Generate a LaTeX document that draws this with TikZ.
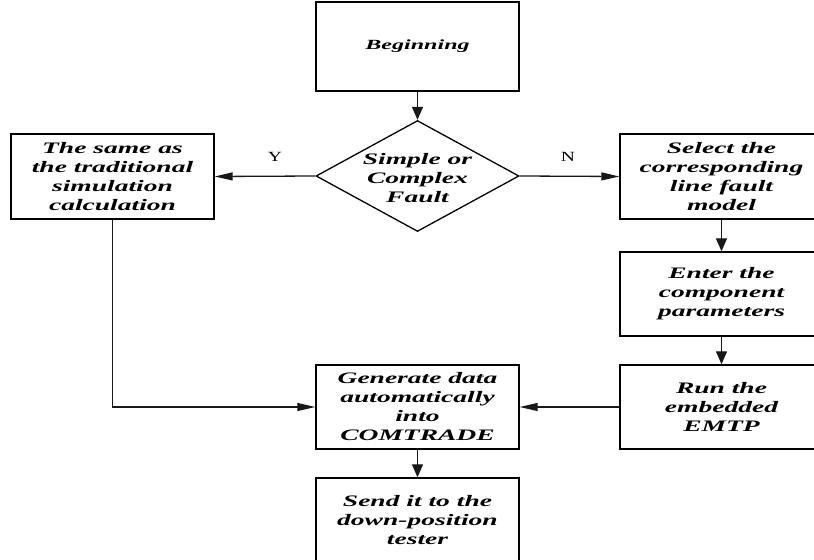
\documentclass[tikz,border=0pt]{standalone}
\usepackage{fontspec}
\newfontfamily\fcfont{Liberation Serif}[FakeStretch=1.72]
\newfontfamily\lbfont{Liberation Serif}[FakeStretch=1.4]
\usetikzlibrary{shapes.geometric,arrows.meta}
\begin{document}
\begin{tikzpicture}[x=1bp,y=-1bp,
  box/.style={draw=black,line width=1.4bp,rectangle,minimum width=203bp,minimum height=85bp,inner sep=0pt,
    align=center,font=\fcfont\bfseries\itshape\fontsize{16bp}{19bp}\selectfont},
  txt/.style={align=center,inner sep=0pt,font=\fcfont\bfseries\itshape\fontsize{16bp}{19bp}\selectfont},
  lab/.style={inner sep=0pt,font=\lbfont\fontsize{14bp}{16bp}\selectfont},
  conn/.style={draw=black!90,line width=1.3bp},
  harr/.style={conn,-{Triangle[length=18bp,width=8bp]}},
  varr/.style={conn,-{Triangle[length=13bp,width=11bp]}}]
\useasboundingbox (0,0) rectangle (814,560);
\clip (0,0) rectangle (814,560);
\node[box,minimum height=89bp] (beg) at (417.5,46.5) {\fontsize{14bp}{17bp}\selectfont Beginning};
\node[diamond,draw=black,line width=1.3bp,minimum width=203bp,minimum height=111bp,inner sep=0pt] (dec) at (417.5,176) {};
\node[txt] (dect) at (417.5,178) {Simple or\\Complex\\Fault};
\node[box] (same) at (112.5,176.5) {The same as\\the traditional\\simulation\\calculation};
\node[box] (sel) at (721.5,176.5) {Select the\\corresponding\\line fault\\model};
\node[box,minimum height=84bp] (ent) at (721.5,294) {Enter the\\component\\parameters};
\node[box,minimum height=84bp] (run) at (721.5,407) {Run the\\embedded\\EMTP};
\node[box,minimum height=84bp] (gen) at (417.5,407) {Generate data\\automatically\\into\\COMTRADE};
\node[box,minimum height=84bp] (send) at (417.5,520) {Send it to the\\down-position\\tester};
\node[lab] (y) at (275,157) {Y};
\node[lab] (n) at (568,157) {N};
\draw[varr] (beg.south) -- (dec.north);
\draw[harr] (dec.west) -- (same.east);
\draw[harr] (dec.east) -- (sel.west);
\draw[varr] (sel.south) -- (ent.north);
\draw[varr] (ent.south) -- (run.north);
\draw[harr] (run.west) -- (gen.east);
\draw[harr] (same.south) |- (gen.west);
\draw[varr] (gen.south) -- (send.north);
\end{tikzpicture}
\end{document}
